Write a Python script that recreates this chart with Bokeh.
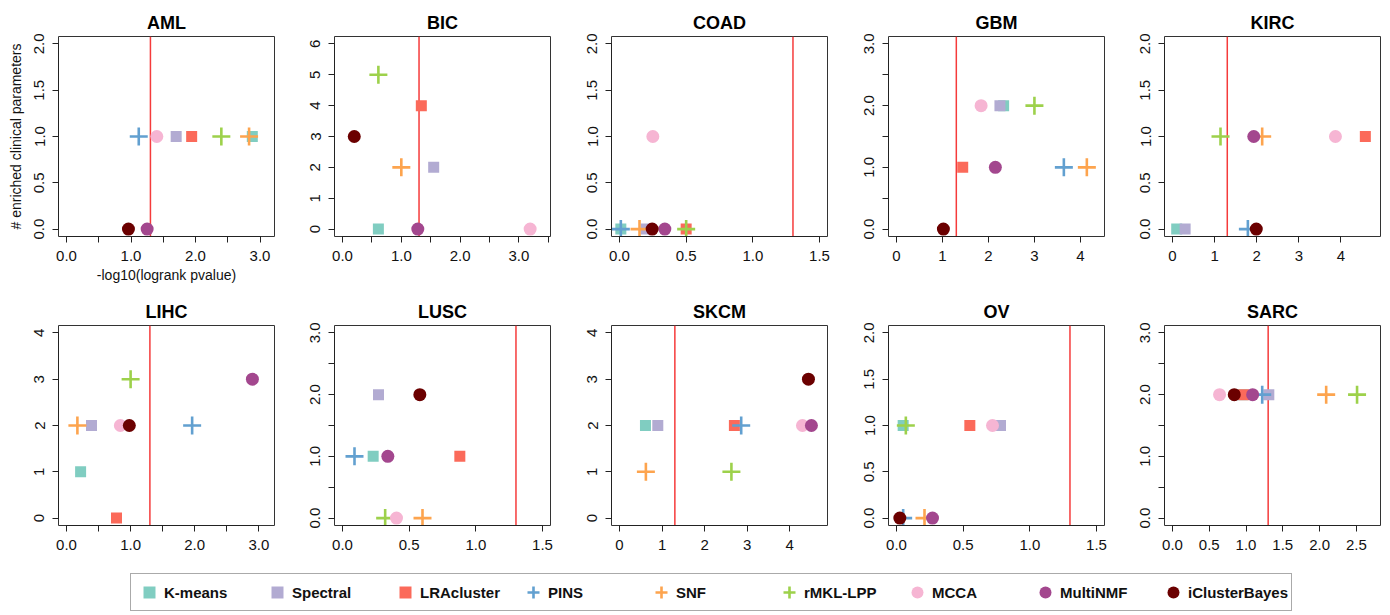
import math
from bokeh.plotting import figure
from bokeh.layouts import row, column
from bokeh.models import Range1d, Span, FixedTicker, Legend, LegendItem
from bokeh.embed import file_html
from bokeh.resources import INLINE

nan = float("nan")

CANCERS = ["AML", "BIC", "COAD", "GBM", "KIRC", "LIHC", "LUSC", "SKCM", "OV", "SARC"]
METHODS = ["K-means", "Spectral", "LRAcluster", "PINS", "SNF", "rMKL-LPP", "MCCA", "MultiNMF", "iClusterBayes"]
COLORS = ["#80CDC1", "#B2ABD2", "#FB6A5A", "#62A0D0", "#FDA44E", "#9DD14B", "#F6B5D3", "#A3478E", "#6B0000"]
MARKERS = ["square", "square", "square", "cross", "cross", "cross", "circle", "circle", "circle"]

# -log10(logrank pvalue) per cancer (order of CANCERS)
KMEANS_X = [2.88, 0.61, 0.01, 2.33, 0.10, 0.22, 0.23, 0.61, 0.05, 0.95]
SPECTRAL_X = [1.70, 1.55, 0.20, 2.25, 0.30, 0.39, 0.27, 0.90, 0.78, 1.31]
LRACLUSTER_X = [1.94, 1.34, 0.50, 1.44, 4.58, 0.78, 0.88, 2.70, 0.55, 0.97]
PINS_X = [1.12, nan, 0.01, 3.64, 1.79, 1.96, 0.09, 2.86, 0.05, 1.22]
SNF_X = [2.83, 1.00, 0.15, 4.14, 2.13, 0.17, 0.60, 0.62, 0.21, 2.09]
RMKL_X = [2.40, 0.61, 0.50, 3.00, 1.14, 1.00, 0.32, 2.63, 0.07, 2.51]
MCCA_X = [1.40, 3.19, 0.25, 1.84, 3.87, 0.84, 0.405, 4.30, 0.72, 0.64]
MULTINMF_X = [1.25, 1.28, 0.34, 2.15, 1.93, 2.90, 0.34, 4.51, 0.27, 1.09]
ICLUSTER_X = [0.96, 0.20, 0.245, 1.02, 1.99, 0.98, 0.58, 4.44, 0.025, 0.84]

# number of enriched clinical parameters per cancer
KMEANS_Y = [1, 0, 0, 2, 0, 1, 1, 2, 1, 2]
SPECTRAL_Y = [1, 2, 0, 2, 0, 2, 2, 2, 1, 2]
LRACLUSTER_Y = [1, 4, 0, 1, 1, 0, 1, 2, 1, 2]
PINS_Y = [1, nan, 0, 1, 0, 2, 1, 2, 0, 2]
SNF_Y = [1, 2, 0, 1, 1, 2, 0, 1, 0, 2]
RMKL_Y = [1, 5, 0, 2, 1, 3, 0, 1, 1, 2]
MCCA_Y = [1, 0, 1, 2, 1, 2, 0, 2, 1, 2]
MULTINMF_Y = [0, 0, 0, 1, 1, 3, 1, 2, 0, 2]
ICLUSTER_Y = [0, 3, 0, 0, 0, 2, 2, 3, 0, 2]

ALL_X = [KMEANS_X, SPECTRAL_X, LRACLUSTER_X, PINS_X, SNF_X, RMKL_X, MCCA_X, MULTINMF_X, ICLUSTER_X]
ALL_Y = [KMEANS_Y, SPECTRAL_Y, LRACLUSTER_Y, PINS_Y, SNF_Y, RMKL_Y, MCCA_Y, MULTINMF_Y, ICLUSTER_Y]

X_MAX = [3.1, 3.4, 1.5, 4.35, 4.75, 3.12, 1.5, 4.7, 1.5, 2.72]
Y_MAX = [2, 6, 2, 3, 2, 4, 3, 4, 2, 3]

X_TICK_STEP = [0.5, 0.5, 0.5, 1, 1, 0.5, 0.5, 1, 0.5, 0.5]
X_TICK_LABELS = [
    ["0.0", "", "1.0", "", "2.0", "", "3.0"],
    ["0.0", "", "1.0", "", "2.0", "", "3.0", ""],
    ["0.0", "0.5", "1.0", "1.5"],
    ["0", "1", "2", "3", "4"],
    ["0", "1", "2", "3", "4"],
    ["0.0", "", "1.0", "", "2.0", "", "3.0"],
    ["0.0", "0.5", "1.0", "1.5"],
    ["0", "1", "2", "3", "4"],
    ["0.0", "0.5", "1.0", "1.5"],
    ["0.0", "0.5", "1.0", "1.5", "2.0", "2.5"],
]
Y_TICK_STEP = [0.5, 1, 0.5, 0.5, 0.5, 1, 0.5, 1, 0.5, 0.5]
Y_TICK_LABELS = [
    ["0.0", "0.5", "1.0", "1.5", "2.0"],
    ["0", "1", "2", "3", "4", "5", "6"],
    ["0.0", "0.5", "1.0", "1.5", "2.0"],
    ["0.0", "", "1.0", "", "2.0", "", "3.0"],
    ["0.0", "0.5", "1.0", "1.5", "2.0"],
    ["0", "1", "2", "3", "4"],
    ["0.0", "", "1.0", "", "2.0", "", "3.0"],
    ["0", "1", "2", "3", "4"],
    ["0.0", "0.5", "1.0", "1.5", "2.0"],
    ["0.0", "", "1.0", "", "2.0", "", "3.0"],
]

P_CUTOFF = 0.05
X_LABEL = "-log10(logrank pvalue)"
Y_LABEL = "# enriched clinical parameters"

FONT = "Liberation Sans"
FRAME_W = 216
FRAME_H = 200
LEFT_BORDERS = [58, 50, 50, 50, 50]
RIGHT_BORDERS = [10, 11, 11, 10, 8]


def tick_key(v):
    return int(v) if float(v).is_integer() else v


def style_axis(ax, step, labels, tick_font="15px"):
    ticks = [i * step for i in range(len(labels))]
    ax.ticker = FixedTicker(ticks=ticks)
    ax.major_label_overrides = {tick_key(t): lab for t, lab in zip(ticks, labels)}
    ax.bounds = (ticks[0], ticks[-1])
    ax.major_tick_out = 6
    ax.major_tick_in = 0
    ax.minor_tick_line_color = None
    ax.axis_line_color = "#222222"
    ax.major_tick_line_color = "#222222"
    ax.major_label_text_font = FONT
    ax.major_label_text_font_size = tick_font
    ax.major_label_text_color = "#111111"
    ax.axis_label_text_font = FONT
    ax.axis_label_text_font_size = "14px"
    ax.axis_label_text_font_style = "normal"
    ax.axis_label_text_color = "#111111"


def make_panel(k, col, top_row):
    ext_x = 0.04 * X_MAX[k]
    ext_y = 0.04 * Y_MAX[k]
    p = figure(
        frame_width=FRAME_W, frame_height=FRAME_H,
        x_range=Range1d(-ext_x, X_MAX[k] + ext_x),
        y_range=Range1d(-ext_y, Y_MAX[k] + ext_y),
        toolbar_location=None, output_backend="svg",
        min_border_left=LEFT_BORDERS[col], min_border_right=RIGHT_BORDERS[col],
        min_border_top=36, min_border_bottom=53 if top_row else 33,
        title=CANCERS[k],
    )
    p.title.align = "center"
    p.title.text_font = FONT
    p.title.text_font_size = "18px"
    p.title.text_font_style = "bold"
    p.title.text_color = "#000000"
    p.title.standoff = 7
    p.grid.visible = False
    p.outline_line_color = "#333333"
    p.outline_line_width = 1
    p.background_fill_color = "white"
    p.border_fill_color = "white"

    style_axis(p.xaxis[0], X_TICK_STEP[k], X_TICK_LABELS[k])
    style_axis(p.yaxis[0], Y_TICK_STEP[k], Y_TICK_LABELS[k])
    p.xaxis.major_label_standoff = 8
    p.yaxis.major_label_standoff = 8
    p.yaxis.major_label_orientation = "vertical"

    if k == 0:
        p.xaxis.axis_label = X_LABEL
        p.xaxis.axis_label_standoff = 3
        p.yaxis.axis_label = Y_LABEL
        p.yaxis.axis_label_standoff = 8

    p.add_layout(Span(location=-math.log10(P_CUTOFF), dimension="height",
                      line_color="#F53B3B", line_width=1.5, level="underlay"))

    for m, name in enumerate(METHODS):
        xs = [ALL_X[m][k]]
        ys = [ALL_Y[m][k]]
        if MARKERS[m] == "cross":
            p.scatter(xs, ys, marker="cross", size=18, line_color=COLORS[m], line_width=2.6)
        elif MARKERS[m] == "square":
            p.scatter(xs, ys, marker="square", size=11, fill_color=COLORS[m], line_color=None)
        else:
            p.scatter(xs, ys, marker="circle", size=13, fill_color=COLORS[m], line_color=None)
    return p


row1 = [make_panel(k, k, True) for k in range(5)]
row2 = [make_panel(k + 5, k, False) for k in range(5)]

TOTAL_W = sum(LEFT_BORDERS) + FRAME_W * 5 + sum(RIGHT_BORDERS)

lf = figure(width=TOTAL_W, height=55, x_range=(0, 1), y_range=(0, 1),
            toolbar_location=None, output_backend="svg", min_border=0,
            x_axis_type=None, y_axis_type=None)
lf.outline_line_color = None
lf.grid.visible = False
items = []
for m, name in enumerate(METHODS):
    if MARKERS[m] == "cross":
        r = lf.scatter(x=[nan], y=[nan], marker="cross", size=18, line_color=COLORS[m], line_width=2.6)
    else:
        r = lf.scatter(x=[nan], y=[nan], marker=MARKERS[m], size=12, fill_color=COLORS[m], line_color=None)
    items.append(LegendItem(label=name, renderers=[r]))
leg = Legend(items=items, orientation="horizontal", location=(130, 2),
             glyph_width=30, glyph_height=30, label_standoff=0, label_width=98,
             spacing=0, padding=3, margin=0,
             label_text_font=FONT, label_text_font_size="15px", label_text_font_style="bold",
             label_text_color="#111111",
             border_line_color="#555555", border_line_width=1.5,
             background_fill_color="white", background_fill_alpha=1.0)
lf.add_layout(leg)

layout = column(row(*row1), row(*row2), lf)

open("out.html", "w").write(file_html(layout, INLINE))
